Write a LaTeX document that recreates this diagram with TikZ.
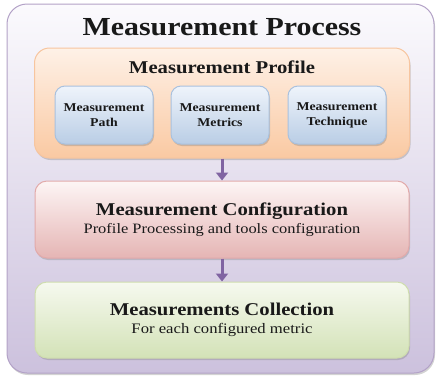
\documentclass[tikz,border=0pt]{standalone}
\usepackage{fontspec}
\setmainfont{Liberation Serif}[FakeStretch=1.15]
\usepackage{xcolor}
\usetikzlibrary{arrows.meta,shadows}
\definecolor{procline}{HTML}{B3A2C7}
\definecolor{proctop}{HTML}{FBFAFD}
\definecolor{procbot}{HTML}{CCC1DD}
\definecolor{profline}{HTML}{F7C59F}
\definecolor{proftop}{HTML}{FEF1E7}
\definecolor{profbot}{HTML}{FAC9A2}
\definecolor{partline}{HTML}{A9C1DE}
\definecolor{parttop}{HTML}{EFF4FB}
\definecolor{partbot}{HTML}{B9CDE5}
\definecolor{confline}{HTML}{E2AAAA}
\definecolor{conftop}{HTML}{FDF5F5}
\definecolor{confbot}{HTML}{E5B5B4}
\definecolor{collline}{HTML}{CFDDAE}
\definecolor{colltop}{HTML}{F6F9EF}
\definecolor{collbot}{HTML}{D3E2B7}
\definecolor{flow}{HTML}{8064A2}

\tikzset{
	box/.style={rounded corners=#1, line width=1pt, drop shadow={opacity=.35, shadow xshift=1pt, shadow yshift=-2pt}},
	title/.style={font=\bfseries, text=black!90},
	flowarrow/.style={flow, line width=3pt, -{Triangle[width=12pt,length=8pt]}}
}

\begin{document}
\begin{tikzpicture}[x=1pt, y=-1pt]
	\useasboundingbox (0,0) rectangle (436,378);

	% outer frame
	\node[box=20pt, draw=procline, top color=proctop, bottom color=procbot,
		minimum width=427pt, minimum height=369pt] (process) at (220.5,188.5) {};
	\node[title, font=\fontsize{26}{28}\selectfont\bfseries] (processlabel) at (222,27) {Measurement Process};

	% profile
	\node[box=15pt, draw=profline, top color=proftop, bottom color=profbot,
		minimum width=375pt, minimum height=110pt] (profile) at (222,103) {};
	\node[title, font=\fontsize{18}{20}\selectfont\bfseries] (profilelabel) at (222,67) {Measurement Profile};
	\foreach \x/\n/\t in {104/path/Path, 220/metrics/Metrics, 337/technique/Technique}{
		\node[box=10pt, draw=partline, top color=parttop, bottom color=partbot,
			minimum width=98pt, minimum height=58pt, align=center,
			title, font=\fontsize{12}{15}\selectfont\bfseries] (\n) at (\x,115) {Measurement\\\t};
	}

	% configuration
	\node[box=12pt, draw=confline, top color=conftop, bottom color=confbot,
		minimum width=374pt, minimum height=77pt, align=center, text=black!90,
		font=\fontsize{14.3}{18.5}\selectfont] (config) at (222,219.5)
		{{\fontsize{18}{18.5}\selectfont\bfseries Measurement Configuration}\\
		Profile Processing and tools configuration};

	% collection
	\node[box=12pt, draw=collline, top color=colltop, bottom color=collbot,
		minimum width=374pt, minimum height=76pt, align=center, text=black!90,
		font=\fontsize{14.5}{17.5}\selectfont] (collect) at (222,320)
		{{\fontsize{18}{17.5}\selectfont\bfseries Measurements Collection}\\
		For each configured metric};

	\draw[flowarrow] (profile.south) -- (config.north);
	\draw[flowarrow] (config.south) -- (collect.north);
\end{tikzpicture}
\end{document}
